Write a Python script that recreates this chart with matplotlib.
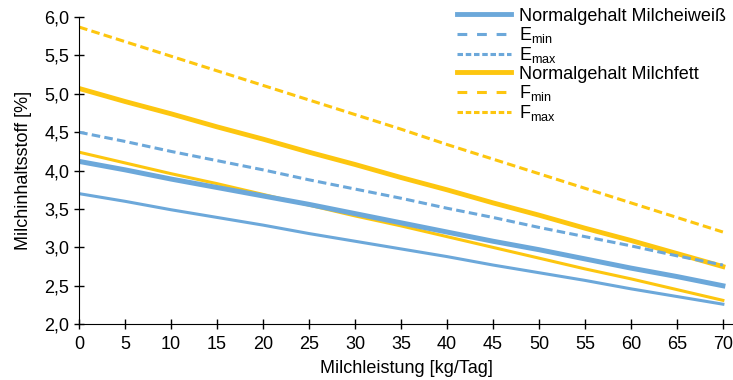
import numpy as np
import matplotlib
matplotlib.use('Agg')
import matplotlib.pyplot as plt
from matplotlib.lines import Line2D
from matplotlib.ticker import FuncFormatter, MultipleLocator

plt.rcParams['font.family'] = ['Liberation Sans', 'DejaVu Sans']

# Milchleistung [kg/Tag]
leistung = [0, 5, 10, 15, 20, 25, 30, 35, 40, 45, 50, 55, 60, 65, 70]

# Milcheiweiss
eiweiss_norm = [4.12, 4.01, 3.89, 3.78, 3.67, 3.56, 3.44, 3.32, 3.20, 3.08, 2.97, 2.85, 2.73, 2.62, 2.50]
eiweiss_min = [3.70, 3.60, 3.49, 3.39, 3.29, 3.18, 3.08, 2.98, 2.88, 2.77, 2.67, 2.57, 2.46, 2.36, 2.26]
eiweiss_max = [4.50, 4.38, 4.25, 4.13, 4.01, 3.88, 3.76, 3.64, 3.51, 3.39, 3.26, 3.14, 3.02, 2.89, 2.77]

# Milchfett
fett_norm = [5.07, 4.90, 4.74, 4.57, 4.41, 4.24, 4.08, 3.91, 3.75, 3.58, 3.42, 3.25, 3.09, 2.92, 2.75]
fett_min = [4.24, 4.10, 3.96, 3.83, 3.69, 3.55, 3.41, 3.28, 3.14, 3.00, 2.86, 2.72, 2.59, 2.45, 2.31]
fett_max = [5.87, 5.68, 5.49, 5.30, 5.11, 4.92, 4.73, 4.54, 4.34, 4.15, 3.96, 3.77, 3.58, 3.39, 3.20]

blau = '#6CA8DA'
gelb = '#FDC60F'

fig = plt.figure(figsize=(7.33, 3.8), dpi=100)
ax = fig.add_axes([0.108, 0.147, 0.892, 0.808])

ax.plot(leistung, fett_max, color=gelb, lw=2.2, ls=(0, (2.8, 1.4)))
ax.plot(leistung, fett_norm, color=gelb, lw=3.5)
ax.plot(leistung, eiweiss_max, color=blau, lw=2.2, ls=(0, (2.8, 1.4)))
ax.plot(leistung, fett_min, color=gelb, lw=2.2)
ax.plot(leistung, eiweiss_norm, color=blau, lw=3.6)
ax.plot(leistung, eiweiss_min, color=blau, lw=2.2)

ax.set_xlim(0, 71.1)
ax.set_ylim(2.0, 6.0)
ax.xaxis.set_major_locator(MultipleLocator(5))
ax.yaxis.set_major_locator(MultipleLocator(0.5))
ax.yaxis.set_major_formatter(FuncFormatter(lambda v, p: f'{v:.1f}'.replace('.', ',')))
ax.spines['top'].set_visible(False)
ax.spines['right'].set_visible(False)
ax.tick_params(direction='inout', length=7, width=1, labelsize=13)
ax.tick_params(axis='x', pad=5)
ax.set_xlabel('Milchleistung [kg/Tag]', fontsize=13, labelpad=5)
ax.set_ylabel('Milchinhaltsstoff [%]', fontsize=13, labelpad=9)

handles = [
    Line2D([], [], color=blau, lw=3.5),
    Line2D([], [], color=blau, lw=2.2, ls=(0, (3.2, 3.2))),
    Line2D([], [], color=blau, lw=2.2, ls=(0, (1.8, 0.9))),
    Line2D([], [], color=gelb, lw=3.5),
    Line2D([], [], color=gelb, lw=2.2, ls=(0, (3.2, 3.2))),
    Line2D([], [], color=gelb, lw=2.2, ls=(0, (1.8, 0.9))),
]
labels = ['Normalgehalt Milcheiweiß', 'E$_\\mathregular{min}$', 'E$_\\mathregular{max}$',
          'Normalgehalt Milchfett', 'F$_\\mathregular{min}$', 'F$_\\mathregular{max}$']
fig.legend(handles, labels, loc='upper left', bbox_to_anchor=(0.613, 0.999),
           frameon=False, fontsize=13, handlelength=3.0, handletextpad=0.45,
           labelspacing=0.02, borderaxespad=0)

fig.savefig('out.png', dpi=100)
